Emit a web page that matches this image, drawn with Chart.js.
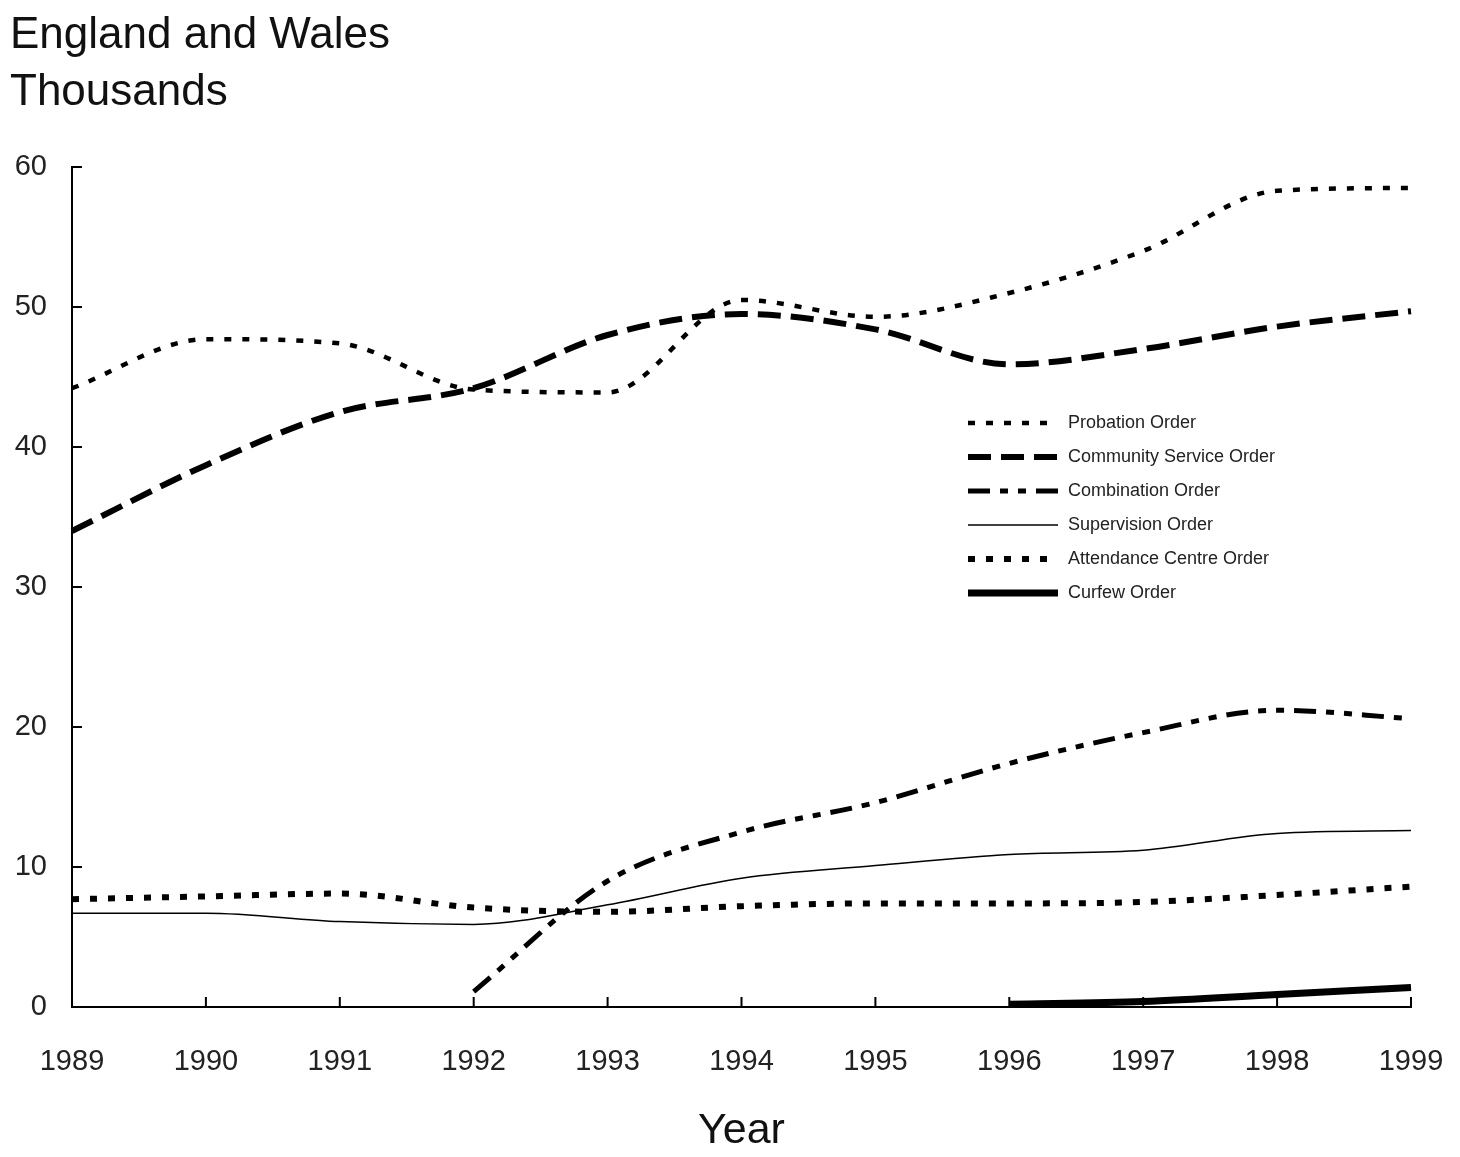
<!DOCTYPE html>
<html>
<head>
<meta charset="utf-8">
<script src="https://cdn.jsdelivr.net/npm/chart.js@4/dist/chart.umd.min.js"></script>
<style>
  body { margin: 0; background: #fff; }
  #wrap { position: relative; width: 1460px; height: 1157px; }
  #heading {
    position: absolute; left: 10px; top: 4px;
    font-family: 'Liberation Sans', Arial, sans-serif;
    font-size: 44px; line-height: 57px; color: #111;
  }
  canvas { position: absolute; left: 0; top: 0; }
</style>
</head>
<body>
<div id="wrap">
  <canvas id="chart" width="1460" height="1157"></canvas>
  <div id="heading">England and Wales<br>Thousands</div>
</div>
<script>
let years = ['1989', '1990', '1991', '1992', '1993', '1994', '1995', '1996', '1997', '1998', '1999'];
let yTicks = [0, 10, 20, 30, 40, 50, 60];

let probation = [44.2, 47.7, 47.4, 44.1, 43.9, 50.5, 49.3, 51.0, 54.0, 58.3, 58.5];
let communityService = [34.0, 38.7, 42.5, 44.2, 48.0, 49.5, 48.4, 45.9, 47.0, 48.6, 49.7];
let combination = [null, null, null, 1.1, 9.0, 12.5, 14.6, 17.4, 19.6, 21.2, 20.6];
let supervision = [6.7, 6.7, 6.1, 5.9, 7.3, 9.2, 10.1, 10.9, 11.2, 12.4, 12.6];
let attendance = [7.7, 7.9, 8.1, 7.1, 6.8, 7.2, 7.4, 7.4, 7.5, 8.0, 8.6];
let curfew = [null, null, null, null, null, null, null, 0.2, 0.4, 0.9, 1.4];

let fontFamily = "'Liberation Sans', Arial, sans-serif";

function series(label, data, width, dash) {
    return {
        label: label,
        data: data,
        borderColor: '#000',
        backgroundColor: '#000',
        borderWidth: width,
        borderDash: dash,
        borderCapStyle: 'butt',
        pointRadius: 0,
        cubicInterpolationMode: 'monotone',
        fill: false
    };
}

// ticks point inward, into the plot, as in the original
let innerTicks = {
    id: 'innerTicks',
    afterDraw(chart) {
        let ctx = chart.ctx;
        let x = chart.scales.x;
        let y = chart.scales.y;
        ctx.save();
        ctx.strokeStyle = '#000';
        ctx.lineWidth = 2;
        ctx.setLineDash([]);
        ctx.beginPath();
        y.ticks.forEach((t) => {
            let py = y.getPixelForValue(t.value);
            ctx.moveTo(x.left, py);
            ctx.lineTo(x.left + 10, py);
        });
        x.ticks.forEach((t, i) => {
            let px = x.getPixelForTick(i);
            ctx.moveTo(px, y.bottom);
            ctx.lineTo(px, y.bottom - 10);
        });
        ctx.stroke();
        ctx.restore();
    }
};

// legend box sits inside the plot area on the right
let insideLegend = {
    id: 'insideLegend',
    afterDraw(chart) {
        let ctx = chart.ctx;
        let area = chart.chartArea;
        let lx = area.left + 896;
        let ly = area.top + 256;
        ctx.save();
        chart.data.datasets.forEach((ds, i) => {
            let rowY = ly + i * 34;
            ctx.strokeStyle = '#000';
            ctx.lineWidth = ds.borderWidth;
            ctx.lineCap = 'butt';
            ctx.setLineDash(ds.borderDash);
            ctx.beginPath();
            ctx.moveTo(lx, rowY);
            ctx.lineTo(lx + 90, rowY);
            ctx.stroke();
            ctx.setLineDash([]);
            ctx.fillStyle = '#222';
            ctx.font = '18px ' + fontFamily;
            ctx.textBaseline = 'middle';
            ctx.fillText(ds.label, lx + 100, rowY);
        });
        ctx.restore();
    }
};

let ctx = document.getElementById('chart').getContext('2d');
let chart = new Chart(ctx, {
    type: 'line',
    data: {
        labels: years,
        datasets: [
            series('Probation Order', probation, 4.5, [7, 11]),
            series('Community Service Order', communityService, 6, [23, 10]),
            series('Combination Order', combination, 5, [22, 10, 8, 10, 8, 10]),
            series('Supervision Order', supervision, 1.5, []),
            series('Attendance Centre Order', attendance, 6, [7, 11]),
            series('Curfew Order', curfew, 7, [])
        ]
    },
    options: {
        responsive: false,
        animation: false,
        devicePixelRatio: 1,
        layout: { padding: { left: 0, top: 167, right: 49, bottom: 0 } },
        plugins: {
            legend: { display: false },
            tooltip: { enabled: false }
        },
        scales: {
            x: {
                type: 'category',
                offset: false,
                grid: { display: false, drawTicks: false },
                border: { display: true, color: '#000', width: 2 },
                ticks: {
                    color: '#222',
                    font: { family: fontFamily, size: 29 },
                    padding: 38,
                    maxRotation: 0,
                    autoSkip: false
                },
                title: {
                    display: true,
                    text: 'Year',
                    color: '#111',
                    font: { family: fontFamily, size: 43 },
                    padding: { top: 0, bottom: 0 }
                },
                afterFit(scale) {
                    scale.height = 150;
                    // label padding would otherwise push the plot in from the right
                    scale.paddingRight = 0;
                    scale.paddingLeft = 0;
                }
            },
            y: {
                min: 0,
                max: 60,
                afterBuildTicks(scale) { scale.ticks = yTicks.map((v) => ({ value: v })); },
                grid: { display: false, drawTicks: false },
                border: { display: true, color: '#000', width: 2 },
                ticks: {
                    color: '#222',
                    font: { family: fontFamily, size: 29 },
                    padding: 25
                },
                afterFit(scale) { scale.width = 72; }
            }
        }
    },
    plugins: [innerTicks, insideLegend]
});
</script>
</body>
</html>
